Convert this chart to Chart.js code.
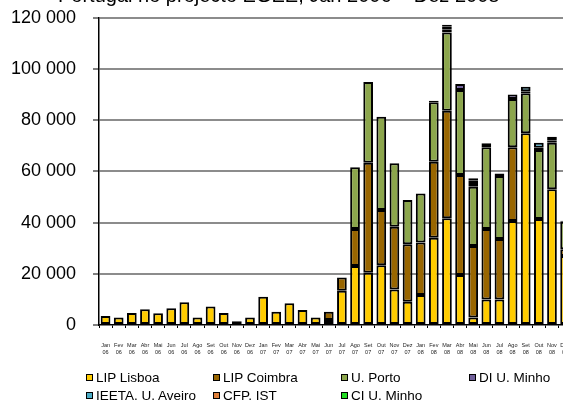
<!DOCTYPE html>
<html>
<head>
<meta charset="utf-8">
<script src="https://cdn.jsdelivr.net/npm/chart.js@4/dist/chart.umd.min.js"></script>
<style>
  html, body { margin: 0; padding: 0; background: #fff; overflow: hidden; }
  body { width: 563px; height: 400px; position: relative; font-family: "Liberation Sans", Arial, sans-serif; }
  #chart { position: absolute; left: 0; top: 0; }
  #title { position: absolute; left: 58px; width: 440px; top: -15px; font-size: 20px; line-height: 20px; text-align: center; white-space: nowrap; color: #000; }
  .leg { position: absolute; font-size: 13.5px; line-height: 16px; color: #000; white-space: nowrap; }
  .leg i { display: inline-block; width: 5px; height: 5px; border: 1.5px solid #000; margin-right: 3px; vertical-align: 1px; }
</style>
</head>
<body>
<canvas id="chart" width="584" height="400"></canvas>
<div id="title">Portugal no projecto EGEE, Jan 2006 – Dez 2008</div>
<div id="legend"></div>
<script>
  const months = [
    ["Jan", "06"], ["Fev", "06"], ["Mar", "06"], ["Abr", "06"], ["Mai", "06"], ["Jun", "06"],
    ["Jul", "06"], ["Ago", "06"], ["Set", "06"], ["Out", "06"], ["Nov", "06"], ["Dez", "06"],
    ["Jan", "07"], ["Fev", "07"], ["Mar", "07"], ["Abr", "07"], ["Mai", "07"], ["Jun", "07"],
    ["Jul", "07"], ["Ago", "07"], ["Set", "07"], ["Out", "07"], ["Nov", "07"], ["Dez", "07"],
    ["Jan", "08"], ["Fev", "08"], ["Mar", "08"], ["Abr", "08"], ["Mai", "08"], ["Jun", "08"],
    ["Jul", "08"], ["Ago", "08"], ["Set", "08"], ["Out", "08"], ["Nov", "08"], ["Dez", "08"],
  ];

  const lipLisboa = [3500, 2900, 4700, 6200, 4600, 6500, 8900, 2900, 7200, 4700, 1500, 2900,
    11000, 5200, 8500, 5900, 2900, 2000, 13400, 23000, 20400, 23300, 13900, 9100,
    11700, 34100, 41700, 19500, 2900, 10000, 10000, 40600, 74900, 41400, 53000, 27000];
  const lipCoimbra = [null, null, null, null, null, null, null, null, null, null, null, null,
    null, null, null, null, null, 3200, 5200, 14500, 43000, 21600, 24500, 22400,
    20500, 29700, 42000, 39100, 28000, 27500, 23600, 28800, null, null, null, 2600];
  const uPorto = [null, null, null, null, null, null, null, null, null, null, null, null,
    null, null, null, null, null, null, null, 24100, 31500, 36400, 24800, 17300,
    19200, 23200, 30600, 33200, 23100, 31900, 24600, 18900, 15600, 27000, 18200, 10700];
  const diUMinho = [null, null, null, null, null, null, null, null, null, null, null, null,
    null, null, null, null, null, null, null, null, null, null, null, null,
    null, 600, 1200, 2300, 1500, 1600, 1000, 1700, 800, 800, 800, 400];
  const ieetaAveiro = [null, null, null, null, null, null, null, null, null, null, null, null,
    null, null, null, null, null, null, null, null, null, null, null, null,
    null, null, 1000, null, 800, null, null, null, 1800, 2000, 1500, null];
  const cfpIst = [null, null, null, null, null, null, null, null, null, null, null, null,
    null, null, null, null, null, null, null, null, null, null, null, null,
    null, null, 800, null, null, null, null, null, null, null, null, null];
  const ciUMinho = [null, null, null, null, null, null, null, null, null, null, null, null,
    null, null, null, null, null, null, null, null, null, null, null, null,
    null, null, null, null, 1000, null, null, null, null, null, null, null];

  const yTicks = [0, 20000, 40000, 60000, 80000, 100000, 120000];

  const series = [
    { label: "LIP Lisboa", data: lipLisboa, color: "#ffcc00", col: 0, row: 0 },
    { label: "LIP Coimbra", data: lipCoimbra, color: "#996600", col: 1, row: 0 },
    { label: "U. Porto", data: uPorto, color: "#8ca64c", col: 2, row: 0 },
    { label: "DI U. Minho", data: diUMinho, color: "#70609a", col: 3, row: 0 },
    { label: "IEETA, U. Aveiro", data: ieetaAveiro, color: "#4bacc6", col: 0, row: 1 },
    { label: "CFP, IST", data: cfpIst, color: "#e0803a", col: 1, row: 1 },
    { label: "CI U. Minho", data: ciUMinho, color: "#22dd22", col: 2, row: 1 },
  ];

  function fmt(v) {
    return String(v).replace(/\B(?=(\d{3})+(?!\d))/g, " ");
  }

  // html legend, laid out in a grid like the spreadsheet one
  const legendCols = [86, 213, 341, 469];
  const legendRows = [370, 388];
  const legend = document.getElementById("legend");
  series.forEach((s) => {
    const el = document.createElement("div");
    el.className = "leg";
    el.style.left = legendCols[s.col] + "px";
    el.style.top = legendRows[s.row] + "px";
    el.innerHTML = '<i style="background:' + s.color + '"></i>';
    el.appendChild(document.createTextNode(s.label));
    legend.appendChild(el);
  });

  new Chart(document.getElementById("chart"), {
    type: "bar",
    data: {
      labels: months,
      datasets: series.map((s) => ({
        label: s.label,
        data: s.data,
        backgroundColor: s.color,
        borderColor: "#000",
        borderWidth: 2,
        borderSkipped: false,
        barPercentage: 0.74,
        categoryPercentage: 1,
      })),
    },
    options: {
      responsive: false,
      animation: false,
      layout: { padding: { top: 0, left: 0, right: 0, bottom: 0 } },
      plugins: { legend: { display: false }, title: { display: false }, tooltip: { enabled: false } },
      scales: {
        x: {
          stacked: true,
          afterFit: (scale) => { scale.height = 75; },
          grid: { drawOnChartArea: false, drawTicks: true, tickLength: 3, color: "#000", offset: true },
          border: { color: "#000", width: 1.5 },
          ticks: {
            color: "#222",
            font: { family: "Liberation Sans", size: 5.5, lineHeight: 1.3 },
            padding: 14,
            maxRotation: 0,
            autoSkip: false,
          },
        },
        y: {
          stacked: true,
          min: 0,
          max: 120000,
          afterFit: (scale) => { scale.width = 99; },
          afterBuildTicks: (scale) => { scale.ticks = yTicks.map((v) => ({ value: v })); },
          grid: {
            color: (ctx) => (ctx.tick && ctx.tick.value === 0 ? "rgba(0,0,0,0)" : "#8c8c8c"),
            lineWidth: 2,
            tickColor: "#000",
            tickLength: 6,
            tickWidth: 1,
          },
          border: { color: "#000", width: 1.5 },
          ticks: {
            color: "#000",
            font: { family: "Liberation Sans", size: 18 },
            padding: 7,
            callback: (v) => fmt(v) + "  ",
          },
        },
      },
    },
  });
</script>
</body>
</html>
